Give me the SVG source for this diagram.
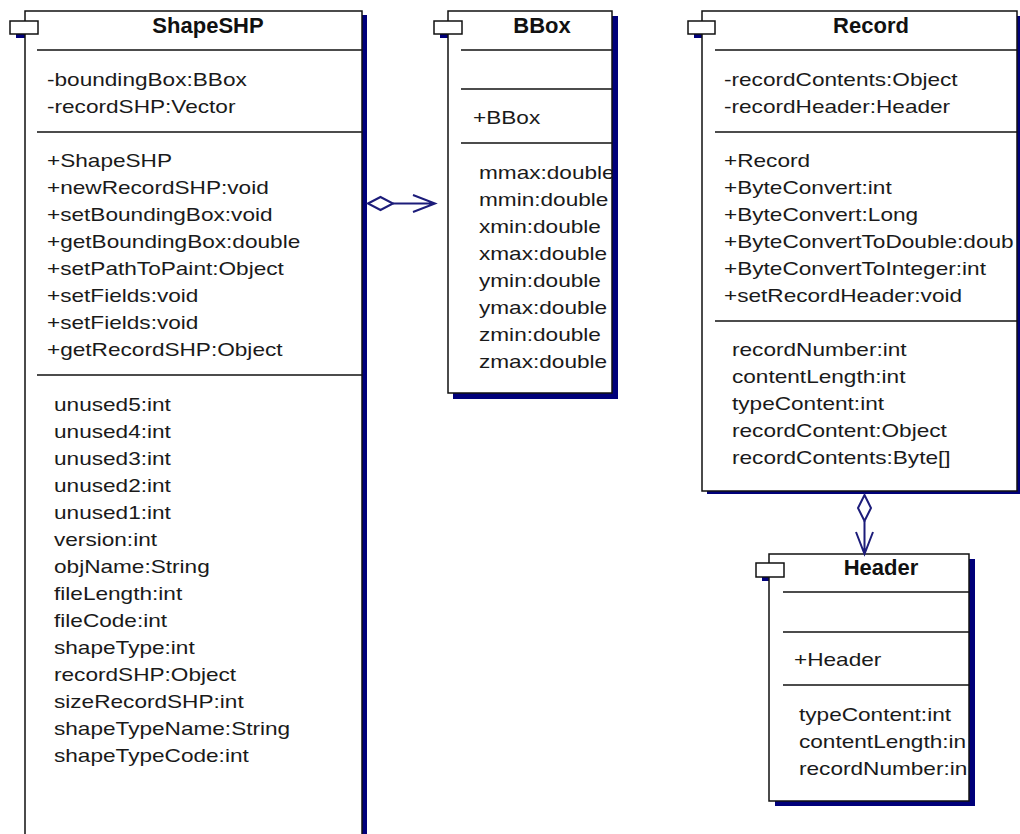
<svg xmlns="http://www.w3.org/2000/svg" width="1020" height="834" viewBox="0 0 1020 834">
<style>
.bg{fill:#fff}
.box{fill:#fff;stroke:#111;stroke-width:1.5}
.shadow{fill:#00007a}
.sep{stroke:#111;stroke-width:1.5}
.icon{fill:#fff;stroke:#111;stroke-width:1.5}
.title{font-family:"Liberation Sans",Arial,sans-serif;font-weight:bold;font-size:22px;fill:#111;text-anchor:middle}
.t{font-family:"Liberation Sans",Arial,sans-serif;font-size:19px;fill:#1a1a1a;transform-box:fill-box;transform-origin:0 0;transform:scaleX(1.19)}
.conn{fill:none;stroke:#1c1c7a;stroke-width:2}
.dia{fill:#fff;stroke:#1c1c7a;stroke-width:2}
</style>
<defs>
<clipPath id="cB"><rect x="448" y="11" width="164" height="382"/></clipPath>
<clipPath id="cR"><rect x="702" y="11" width="315" height="480"/></clipPath>
<clipPath id="cH"><rect x="769" y="554" width="200" height="247"/></clipPath>
</defs>
<rect class="bg" x="0" y="0" width="1020" height="834"/>

<g id="ShapeSHP">
<rect class="shadow" x="16" y="25" width="28" height="13"/>
<rect class="shadow" x="30" y="15" width="337" height="840"/>
<rect class="box" x="25" y="11" width="337" height="840"/>
<rect class="icon" x="10" y="21" width="28" height="13"/>
<text class="title" x="208" y="33">ShapeSHP</text>
<line class="sep" x1="37" y1="50" x2="362" y2="50"/>
<line class="sep" x1="37" y1="132" x2="362" y2="132"/>
<line class="sep" x1="37" y1="375" x2="362" y2="375"/>
<text class="t" x="47" y="86">-boundingBox:BBox</text>
<text class="t" x="47" y="113">-recordSHP:Vector</text>
<text class="t" x="47" y="167">+ShapeSHP</text>
<text class="t" x="47" y="194">+newRecordSHP:void</text>
<text class="t" x="47" y="221">+setBoundingBox:void</text>
<text class="t" x="47" y="248">+getBoundingBox:double</text>
<text class="t" x="47" y="275">+setPathToPaint:Object</text>
<text class="t" x="47" y="302">+setFields:void</text>
<text class="t" x="47" y="329">+setFields:void</text>
<text class="t" x="47" y="356">+getRecordSHP:Object</text>
<text class="t" x="54" y="411">unused5:int</text>
<text class="t" x="54" y="438">unused4:int</text>
<text class="t" x="54" y="465">unused3:int</text>
<text class="t" x="54" y="492">unused2:int</text>
<text class="t" x="54" y="519">unused1:int</text>
<text class="t" x="54" y="546">version:int</text>
<text class="t" x="54" y="573">objName:String</text>
<text class="t" x="54" y="600">fileLength:int</text>
<text class="t" x="54" y="627">fileCode:int</text>
<text class="t" x="54" y="654">shapeType:int</text>
<text class="t" x="54" y="681">recordSHP:Object</text>
<text class="t" x="54" y="708">sizeRecordSHP:int</text>
<text class="t" x="54" y="735">shapeTypeName:String</text>
<text class="t" x="54" y="762">shapeTypeCode:int</text>
</g>

<g id="BBox">
<rect class="shadow" x="440" y="25" width="28" height="13"/>
<rect class="shadow" x="453" y="16" width="165" height="383"/>
<rect class="box" x="448" y="11" width="164" height="382"/>
<rect class="icon" x="434" y="21" width="28" height="13"/>
<text class="title" x="542" y="33">BBox</text>
<line class="sep" x1="461" y1="50" x2="612" y2="50"/>
<line class="sep" x1="461" y1="89" x2="612" y2="89"/>
<line class="sep" x1="461" y1="143" x2="612" y2="143"/>
<g clip-path="url(#cB)">
<text class="t" x="473" y="124">+BBox</text>
<text class="t" x="479" y="179">mmax:double</text>
<text class="t" x="479" y="206">mmin:double</text>
<text class="t" x="479" y="233">xmin:double</text>
<text class="t" x="479" y="260">xmax:double</text>
<text class="t" x="479" y="287">ymin:double</text>
<text class="t" x="479" y="314">ymax:double</text>
<text class="t" x="479" y="341">zmin:double</text>
<text class="t" x="479" y="368">zmax:double</text>
</g>
</g>

<g id="Record">
<rect class="shadow" x="694" y="25" width="28" height="13"/>
<rect class="shadow" x="707" y="16" width="316" height="478"/>
<rect class="box" x="702" y="11" width="315" height="480"/>
<rect class="icon" x="688" y="21" width="27" height="13"/>
<text class="title" x="871" y="33">Record</text>
<line class="sep" x1="715" y1="50" x2="1017" y2="50"/>
<line class="sep" x1="715" y1="132" x2="1017" y2="132"/>
<line class="sep" x1="715" y1="321" x2="1017" y2="321"/>
<g clip-path="url(#cR)">
<text class="t" x="724" y="86">-recordContents:Object</text>
<text class="t" x="724" y="113">-recordHeader:Header</text>
<text class="t" x="724" y="167">+Record</text>
<text class="t" x="724" y="194">+ByteConvert:int</text>
<text class="t" x="724" y="221">+ByteConvert:Long</text>
<text class="t" x="724" y="248">+ByteConvertToDouble:doub</text>
<text class="t" x="724" y="275">+ByteConvertToInteger:int</text>
<text class="t" x="724" y="302">+setRecordHeader:void</text>
<text class="t" x="732" y="356">recordNumber:int</text>
<text class="t" x="732" y="383">contentLength:int</text>
<text class="t" x="732" y="410">typeContent:int</text>
<text class="t" x="732" y="437">recordContent:Object</text>
<text class="t" x="732" y="464">recordContents:Byte[]</text>
</g>
</g>

<g id="Header">
<rect class="shadow" x="762" y="567" width="28" height="14"/>
<rect class="shadow" x="775" y="559" width="200" height="247"/>
<rect class="box" x="769" y="554" width="200" height="247"/>
<rect class="icon" x="756" y="563" width="28" height="14"/>
<text class="title" x="881" y="575">Header</text>
<line class="sep" x1="783" y1="592" x2="969" y2="592"/>
<line class="sep" x1="783" y1="632" x2="969" y2="632"/>
<line class="sep" x1="783" y1="685" x2="969" y2="685"/>
<g clip-path="url(#cH)">
<text class="t" x="794" y="666">+Header</text>
<text class="t" x="799" y="721">typeContent:int</text>
<text class="t" x="799" y="748">contentLength:in</text>
<text class="t" x="799" y="775">recordNumber:in</text>
</g>
</g>

<g id="connectors">
<path class="dia" d="M368,203.5 L380.5,197 L393,203.5 L380.5,210 Z"/>
<path class="conn" d="M393,203.5 L435,203.5 M413,195 L435,203.5 L413,212"/>
<path class="dia" d="M864.5,495 L871,508 L864.5,521 L858,508 Z"/>
<path class="conn" d="M864.5,521 L864.5,554 M856,532 L864.5,554 L873,532"/>
</g>
</svg>
